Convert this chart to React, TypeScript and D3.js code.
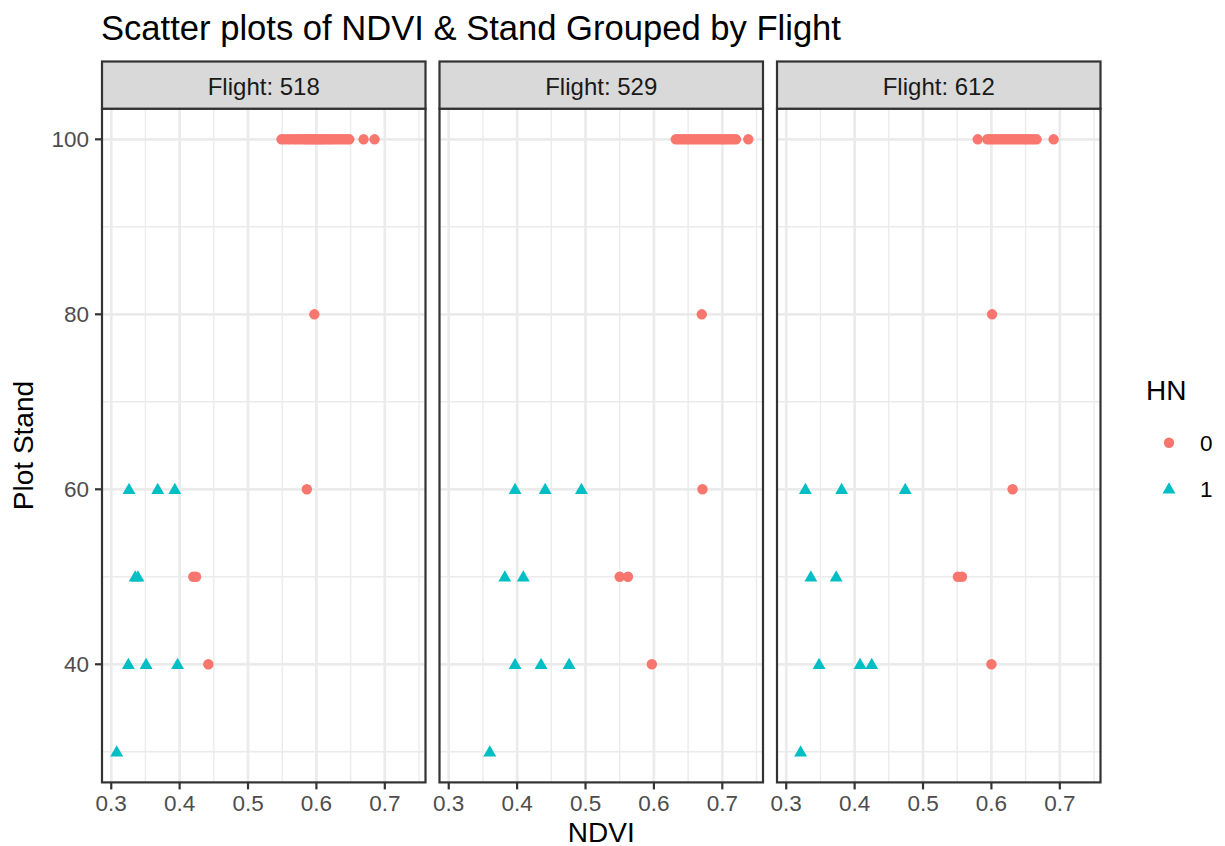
import React from "react";
import * as d3 from "d3";

// ---- Data ----
const FLIGHTS = ["518", "529", "612"];

// Flight 518
const f518Ndvi = [
  0.549, 0.553, 0.558, 0.562, 0.567, 0.571, 0.575, 0.579, 0.583, 0.586, 0.589, 0.592, 0.595, 0.598,
  0.601, 0.604, 0.607, 0.61, 0.613, 0.617, 0.62, 0.624, 0.628, 0.632, 0.636, 0.64, 0.644, 0.648,
  0.669, 0.685,
  0.597, 0.586, 0.42, 0.424, 0.442,
  0.326, 0.368, 0.393, 0.335, 0.339, 0.325, 0.351, 0.397, 0.308,
];
const f518Stand = [
  100, 100, 100, 100, 100, 100, 100, 100, 100, 100, 100, 100, 100, 100,
  100, 100, 100, 100, 100, 100, 100, 100, 100, 100, 100, 100, 100, 100,
  100, 100,
  80, 60, 50, 50, 40,
  60, 60, 60, 50, 50, 40, 40, 40, 30,
];
const f518HN = [
  0, 0, 0, 0, 0, 0, 0, 0, 0, 0, 0, 0, 0, 0,
  0, 0, 0, 0, 0, 0, 0, 0, 0, 0, 0, 0, 0, 0,
  0, 0,
  0, 0, 0, 0, 0,
  1, 1, 1, 1, 1, 1, 1, 1, 1,
];

// Flight 529
const f529Ndvi = [
  0.632, 0.636, 0.64, 0.644, 0.648, 0.652, 0.656, 0.66, 0.664, 0.668, 0.672, 0.676, 0.68, 0.684,
  0.688, 0.692, 0.696, 0.7, 0.704, 0.708, 0.712, 0.716, 0.72, 0.738,
  0.67, 0.671, 0.55, 0.562, 0.597,
  0.397, 0.441, 0.494, 0.382, 0.409, 0.397, 0.435, 0.476, 0.36,
];
const f529Stand = [
  100, 100, 100, 100, 100, 100, 100, 100, 100, 100, 100, 100, 100, 100,
  100, 100, 100, 100, 100, 100, 100, 100, 100, 100,
  80, 60, 50, 50, 40,
  60, 60, 60, 50, 50, 40, 40, 40, 30,
];
const f529HN = [
  0, 0, 0, 0, 0, 0, 0, 0, 0, 0, 0, 0, 0, 0,
  0, 0, 0, 0, 0, 0, 0, 0, 0, 0,
  0, 0, 0, 0, 0,
  1, 1, 1, 1, 1, 1, 1, 1, 1,
];

// Flight 612
const f612Ndvi = [
  0.58, 0.594, 0.598, 0.602, 0.606, 0.61, 0.614, 0.618, 0.622, 0.626, 0.63, 0.634, 0.638, 0.642,
  0.646, 0.65, 0.654, 0.658, 0.662, 0.666, 0.691,
  0.601, 0.631, 0.551, 0.557, 0.6,
  0.328, 0.381, 0.474, 0.336, 0.373, 0.348, 0.408, 0.425, 0.321,
];
const f612Stand = [
  100, 100, 100, 100, 100, 100, 100, 100, 100, 100, 100, 100, 100, 100,
  100, 100, 100, 100, 100, 100, 100,
  80, 60, 50, 50, 40,
  60, 60, 60, 50, 50, 40, 40, 40, 30,
];
const f612HN = [
  0, 0, 0, 0, 0, 0, 0, 0, 0, 0, 0, 0, 0, 0,
  0, 0, 0, 0, 0, 0, 0,
  0, 0, 0, 0, 0,
  1, 1, 1, 1, 1, 1, 1, 1, 1,
];

const X_TICKS = [0.3, 0.4, 0.5, 0.6, 0.7];
const X_MINOR = [0.35, 0.45, 0.55, 0.65, 0.75];
const Y_TICKS = [40, 60, 80, 100];
const Y_MINOR = [30, 50, 70, 90];
const HN_LEVELS = ["0", "1"];
const HN_COLORS = ["#F8766D", "#00BFC4"];

const TITLE = "Scatter plots of NDVI & Stand Grouped by Flight";

type Pt = { ndvi: number; stand: number; hn: number };
const build = (n: number[], s: number[], h: number[]): Pt[] =>
  n.map((v, i) => ({ ndvi: v, stand: s[i], hn: h[i] }));

const PANELS: Pt[][] = [
  build(f518Ndvi, f518Stand, f518HN),
  build(f529Ndvi, f529Stand, f529HN),
  build(f612Ndvi, f612Stand, f612HN),
];

// ---- Layout ----
const W = 1225;
const H = 846;
const FONT = "'Liberation Sans', Arial, Helvetica, sans-serif";
const panelLeft0 = 102;
const panelW = 323.5;
const panelGap = 14;
const panelTop = 108.7;
const panelBottom = 782.4;
const stripTop = 61.5;

const allN = PANELS.flat().map((d) => d.ndvi);
const allS = PANELS.flat().map((d) => d.stand);
const expand = (ext: [number, number]): [number, number] => {
  const r = ext[1] - ext[0];
  return [ext[0] - 0.05 * r, ext[1] + 0.05 * r];
};
const xDom = expand(d3.extent(allN) as [number, number]);
const yDom = expand(d3.extent(allS) as [number, number]);
const y = d3.scaleLinear().domain(yDom).range([panelBottom, panelTop]);

const circlePath = d3.symbol().type(d3.symbolCircle).size(Math.PI * 5.2 * 5.2)() as string;
const triPath = d3.symbol().type(d3.symbolTriangle).size(72)() as string;

const GRID = "#EBEBEB";
const BORDER = "#333333";

export default function App() {
  return (
    <svg
      width={W}
      height={H}
      style={{ position: "absolute", left: 0, top: 0, background: "#fff" }}
      fontFamily={FONT}
    >
      <rect x={0} y={0} width={W} height={H} fill="#fff" />
      <text x={101} y={40} fontSize={34.6} fill="#000">
        {TITLE}
      </text>

      {PANELS.map((pts, pi) => {
        const left = panelLeft0 + pi * (panelW + panelGap);
        const x = d3.scaleLinear().domain(xDom).range([left, left + panelW]);
        return (
          <g key={pi}>
            {/* minor grid */}
            {X_MINOR.filter((v) => v >= xDom[0] && v <= xDom[1]).map((v) => (
              <line key={"xm" + v} x1={x(v)} x2={x(v)} y1={panelTop} y2={panelBottom} stroke={GRID} strokeWidth={1.4} />
            ))}
            {Y_MINOR.map((v) => (
              <line key={"ym" + v} x1={left} x2={left + panelW} y1={y(v)} y2={y(v)} stroke={GRID} strokeWidth={1.4} />
            ))}
            {/* major grid */}
            {X_TICKS.map((v) => (
              <line key={"xg" + v} x1={x(v)} x2={x(v)} y1={panelTop} y2={panelBottom} stroke={GRID} strokeWidth={2.7} />
            ))}
            {Y_TICKS.map((v) => (
              <line key={"yg" + v} x1={left} x2={left + panelW} y1={y(v)} y2={y(v)} stroke={GRID} strokeWidth={2.7} />
            ))}
            {/* points */}
            {pts.map((d, i) => (
              <path
                key={i}
                d={d.hn === 0 ? circlePath : triPath}
                transform={`translate(${x(d.ndvi)},${y(d.stand) + (d.hn === 1 ? 1 : 0)})`}
                fill={HN_COLORS[d.hn]}
              />
            ))}
            {/* border */}
            <rect x={left} y={panelTop} width={panelW} height={panelBottom - panelTop} fill="none" stroke={BORDER} strokeWidth={2.2} />
            {/* strip */}
            <rect x={left} y={stripTop} width={panelW} height={panelTop - stripTop} fill="#D9D9D9" stroke={BORDER} strokeWidth={2.2} />
            <text x={left + panelW / 2} y={95} textAnchor="middle" fontSize={24} fill="#1A1A1A">
              {"Flight: " + FLIGHTS[pi]}
            </text>
            {/* x axis ticks */}
            {X_TICKS.map((v) => (
              <g key={"xt" + v}>
                <line x1={x(v)} x2={x(v)} y1={panelBottom} y2={panelBottom + 7} stroke={BORDER} strokeWidth={2.2} />
                <text x={x(v)} y={810.5} textAnchor="middle" fontSize={22.5} fill="#4D4D4D">
                  {d3.format(".1f")(v)}
                </text>
              </g>
            ))}
          </g>
        );
      })}

      {/* y axis */}
      {Y_TICKS.map((v) => (
        <g key={"yt" + v}>
          <line x1={panelLeft0 - 7} x2={panelLeft0} y1={y(v)} y2={y(v)} stroke={BORDER} strokeWidth={2.2} />
          <text x={panelLeft0 - 13} y={y(v) + 8} textAnchor="end" fontSize={22.5} fill="#4D4D4D">
            {v}
          </text>
        </g>
      ))}

      {/* axis titles */}
      <text
        x={(panelLeft0 + panelLeft0 + 3 * panelW + 2 * panelGap) / 2}
        y={841.5}
        textAnchor="middle"
        fontSize={28}
        fill="#000"
      >
        NDVI
      </text>
      <text
        transform={`translate(33,${(panelTop + panelBottom) / 2}) rotate(-90)`}
        textAnchor="middle"
        fontSize={28}
        fill="#000"
      >
        Plot Stand
      </text>

      {/* legend */}
      <text x={1146} y={400} fontSize={28} fill="#000">
        HN
      </text>
      {HN_LEVELS.map((lab, i) => (
        <g key={lab}>
          <path
            d={i === 0 ? circlePath : triPath}
            transform={`translate(1169,${442.7 + i * 46 + (i === 1 ? 1 : 0)})`}
            fill={HN_COLORS[i]}
          />
          <text x={1200} y={451 + i * 46} fontSize={22.5} fill="#000">
            {lab}
          </text>
        </g>
      ))}
    </svg>
  );
}
